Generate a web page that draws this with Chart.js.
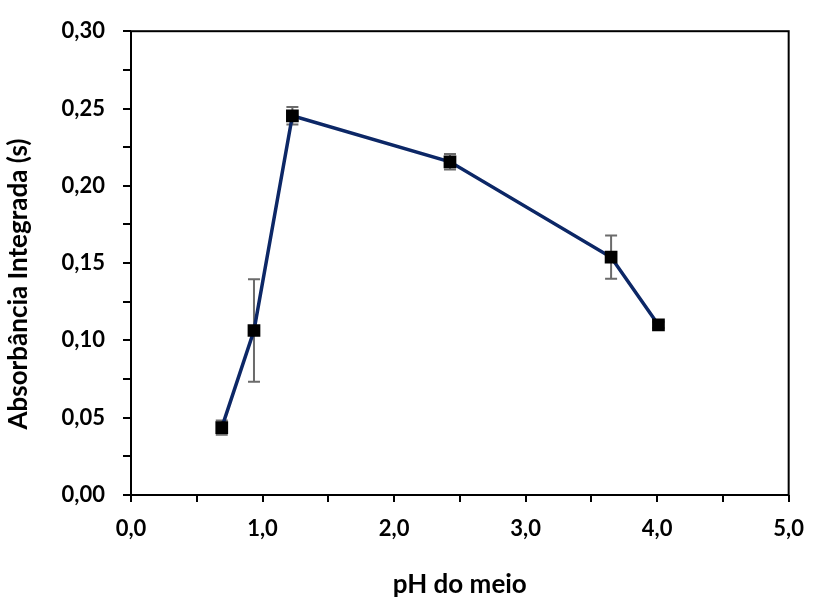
<!DOCTYPE html>
<html>
<head>
<meta charset="utf-8">
<script src="https://cdn.jsdelivr.net/npm/chart.js@4/dist/chart.umd.min.js"></script>
<style>
  html, body { margin: 0; padding: 0; background: #fff; }
  canvas { display: block; }
</style>
</head>
<body>
<canvas id="phChart" width="818" height="598"></canvas>
<script>
const phValues = [0.69, 0.935, 1.227, 2.425, 3.65, 4.01];
const absorbance = [0.0436, 0.1064, 0.2453, 0.2155, 0.1538, 0.110];
const absorbanceError = [0.0046, 0.0332, 0.0056, 0.005, 0.014, 0.002];

const xTitle = 'pH do meio';
const yTitle = 'Absorbância Integrada (s)';

const fontFamily = 'Lato, "Liberation Sans", sans-serif';
Chart.defaults.font.family = fontFamily;
Chart.defaults.font.weight = 'bold';
Chart.defaults.color = '#000';

// whiskers drawn under the line and markers
const errorBars = {
    id: 'errorBars',
    beforeDatasetsDraw(chart) {
        const ctx = chart.ctx;
        const x = chart.scales.x, y = chart.scales.y;
        ctx.save();
        ctx.strokeStyle = '#6b6b6b';
        ctx.lineWidth = 2;
        phValues.forEach((ph, i) => {
            const px = x.getPixelForValue(ph);
            const top = y.getPixelForValue(absorbance[i] + absorbanceError[i]);
            const bottom = y.getPixelForValue(absorbance[i] - absorbanceError[i]);
            ctx.beginPath();
            ctx.moveTo(px, top); ctx.lineTo(px, bottom);
            ctx.moveTo(px - 6, top); ctx.lineTo(px + 6, top);
            ctx.moveTo(px - 6, bottom); ctx.lineTo(px + 6, bottom);
            ctx.stroke();
        });
        ctx.restore();
    }
};

// closed box around the plot area, plus the vertical axis title
// (sits a little below the middle of the axis)
const plotFrame = {
    id: 'plotFrame',
    afterDraw(chart) {
        const {ctx, chartArea: a} = chart;
        ctx.save();
        ctx.strokeStyle = '#000';
        ctx.lineWidth = 2;
        ctx.strokeRect(a.left, a.top, a.right - a.left, a.bottom - a.top);

        ctx.translate(19, (a.top + a.bottom) / 2 + 21);
        ctx.rotate(-Math.PI / 2);
        ctx.fillStyle = '#000';
        ctx.font = 'bold 26px ' + fontFamily;
        ctx.textAlign = 'center';
        ctx.textBaseline = 'middle';
        ctx.fillText(yTitle, 0, 0);
        ctx.restore();
    }
};

const comma = (v, d) => v.toFixed(d).replace('.', ',');

new Chart(document.getElementById('phChart'), {
    type: 'line',
    data: {
        datasets: [{
            data: phValues.map((ph, i) => ({x: ph, y: absorbance[i]})),
            borderColor: '#0c2766',
            borderWidth: 3.5,
            pointStyle: 'rect',
            pointRadius: 9,
            pointHoverRadius: 9,
            pointBackgroundColor: '#000',
            pointBorderColor: '#000',
            pointBorderWidth: 0,
            fill: false,
            tension: 0,
        }]
    },
    options: {
        responsive: false,
        animation: false,
        events: [],
        layout: { padding: { top: 25, right: 19, left: 0, bottom: 0 } },
        plugins: { legend: { display: false }, tooltip: { enabled: false } },
        scales: {
            x: {
                type: 'linear',
                min: 0,
                max: 5,
                afterFit: s => { s.height = 103; },
                border: { display: false },
                grid: { drawOnChartArea: false, drawTicks: true, tickLength: 7, color: '#000', lineWidth: 2 },
                ticks: {
                    stepSize: 0.5,
                    padding: 14,
                    maxRotation: 0,
                    font: { size: 22, weight: 'bold' },
                    callback: v => Math.round(v * 10) % 10 === 0 ? comma(v, 1) : '',
                },
                title: { display: true, text: xTitle, font: { size: 26, weight: 'bold' }, padding: { top: 0, bottom: -2 } },
            },
            y: {
                min: 0,
                max: 0.3,
                afterFit: s => { s.width = 131; },
                border: { display: false },
                grid: { drawOnChartArea: false, drawTicks: true, tickLength: 8, color: '#000', lineWidth: 2 },
                ticks: {
                    stepSize: 0.025,
                    padding: 18,
                    font: { size: 22, weight: 'bold' },
                    callback: v => Math.round(v * 1000) % 50 === 0 ? comma(v, 2) : '',
                },
                title: { display: false },
            },
        },
    },
    plugins: [errorBars, plotFrame],
});
</script>
</body>
</html>
